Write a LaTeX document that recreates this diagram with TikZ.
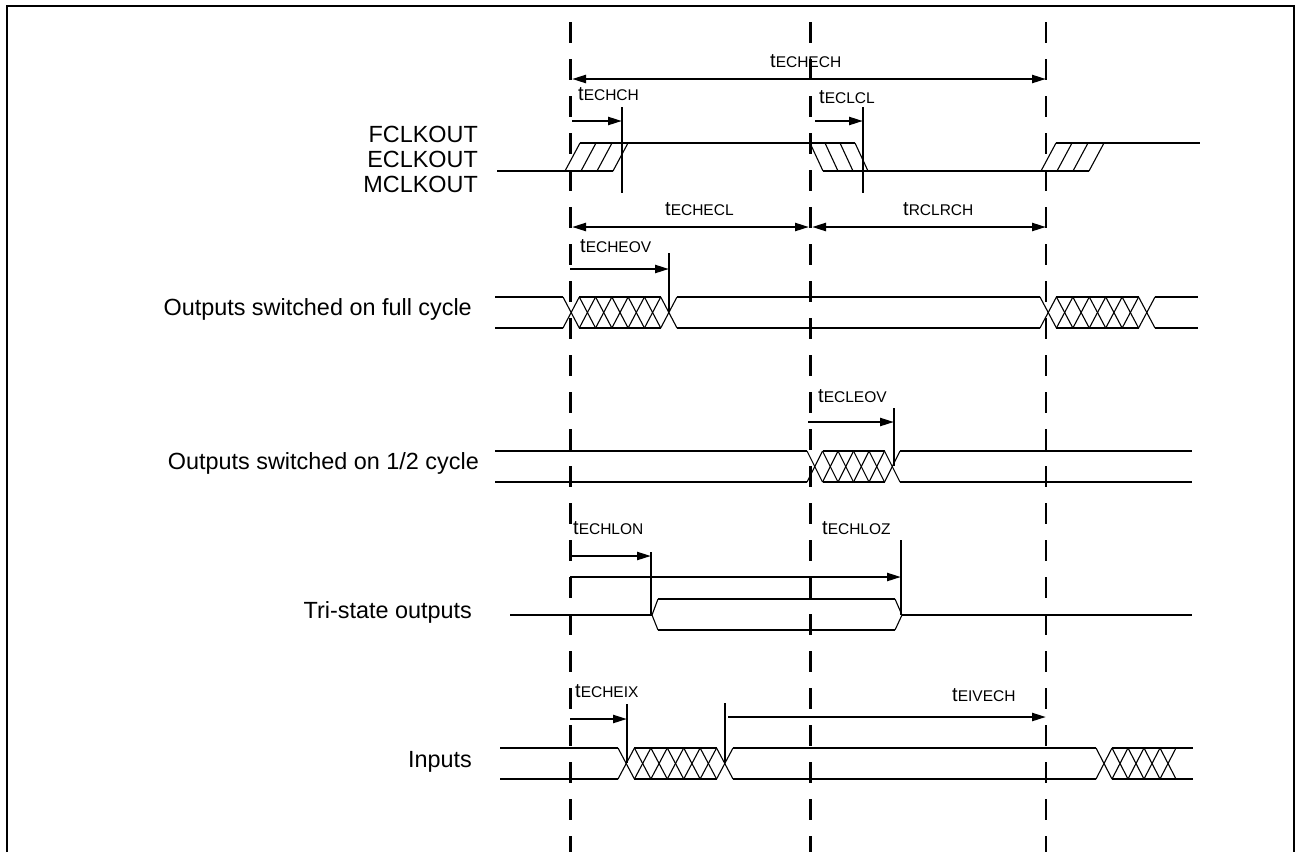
\documentclass[tikz,border=0pt]{standalone}
\usepackage{fontspec}
\setmainfont{Liberation Sans}
\usetikzlibrary{arrows.meta}
\newcommand{\tlab}[1]{{\fontsize{20}{20}\selectfont t}{\fontsize{15.5}{16}\selectfont #1}}
\newcommand{\hatchbus}[5]{%
  \pgfmathsetmacro\hbw{(#2-#1)/#3}%
  \foreach \hbi in {1,...,#3}{%
    \draw[hat] ({#1+(\hbi-1)*\hbw},#4) -- ({#1+\hbi*\hbw},#5);
    \draw[hat] ({#1+(\hbi-1)*\hbw},#5) -- ({#1+\hbi*\hbw},#4);
  }%
  \draw[sig] ({#1+\hbw},#4) -- ({#2-\hbw},#4);
  \draw[sig] ({#1+\hbw},#5) -- ({#2-\hbw},#5);
}
\begin{document}
\begin{tikzpicture}[x=1pt,y=-1pt,
  sig/.style={line width=2.3pt},
  hat/.style={line width=1.1pt},
  guide/.style={line width=2.3pt, dash pattern=on 21pt off 16pt},
  dim/.style={line width=2.3pt,-{Triangle[length=14pt,width=8pt]}},
  ddim/.style={line width=2.3pt,{Triangle[length=14pt,width=8pt]}-{Triangle[length=14pt,width=8pt]}},
  tl/.style={anchor=base west, inner sep=0pt},
  sl/.style={anchor=base east, inner sep=0pt, font=\fontsize{23.4}{25}\selectfont}]
\useasboundingbox (0,0) rectangle (1298,852);
% frame
\draw[line width=2.5pt] (7,852) -- (7,6) -- (1294,6) -- (1294,852);
% guide lines
\coordinate (g1t) at (570.5,22); \coordinate (g1b) at (570.5,852);
\coordinate (g2t) at (810.5,22); \coordinate (g2b) at (810.5,852);
\coordinate (g3t) at (1046,22);  \coordinate (g3b) at (1046,852);
\draw[guide] (g1t) -- (g1b);
\draw[guide] (g2t) -- (g2b);
\draw[guide] (g3t) -- (g3b);
% signal labels
\node[sl] (lf) at (478,142) {FCLKOUT};
\node[sl] (le) at (478,167) {ECLKOUT};
\node[sl] (lm) at (478,192) {MCLKOUT};
\node[sl] (lfull) at (472,315) {Outputs switched on full cycle};
\node[sl] (lhalf) at (479,469) {Outputs switched on 1/2 cycle};
\node[sl] (ltri) at (472,618) {Tri-state outputs};
\node[sl] (lin) at (472,767) {Inputs};
% clock
\draw[sig] (497,171) -- (613,171);
\foreach \a in {565,581,597,613} \draw[hat] (\a,171) -- (\a+15,143);
\draw[sig] (580,143) -- (855,143);
\foreach \a in {810,825,840,855} \draw[hat] (\a,143) -- (\a+13,171);
\draw[sig] (823,171) -- (1089,171);
\foreach \a in {1041,1057,1073,1089} \draw[hat] (\a,171) -- (\a+15,143);
\draw[sig] (1056,143) -- (1200,143);
% clock timing marks
\draw[sig] (622,107) -- (622,193);
\draw[dim] (572,121) -- (622,121);
\draw[sig] (863,107) -- (863,193);
\draw[dim] (815,121) -- (863,121);
\draw[ddim] (572,79) -- (1046,79);
\draw[ddim] (572,227) -- (809,227);
\draw[ddim] (812,227) -- (1046,227);
\node[tl] (techech) at (770,67) {\tlab{ECHECH}};
\node[tl] (techch) at (578,100) {\tlab{ECHCH}};
\node[tl] (teclcl) at (819,103) {\tlab{ECLCL}};
\node[tl] (techecl) at (665,215) {\tlab{ECHECL}};
\node[tl] (trclrch) at (903,215) {\tlab{RCLRCH}};
% outputs full cycle
\draw[sig] (495,297) -- (563,297); \draw[sig] (495,328) -- (563,328);
\hatchbus{563}{677}{7}{297}{328}
\draw[sig] (677,297) -- (1040,297); \draw[sig] (677,328) -- (1040,328);
\hatchbus{1040}{1155}{7}{297}{328}
\draw[sig] (1155,297) -- (1198,297); \draw[sig] (1155,328) -- (1198,328);
\draw[sig] (669,253) -- (669,312);
\draw[dim] (570,269) -- (669,269);
\node[tl] (techeov) at (580,252) {\tlab{ECHEOV}};
% outputs half cycle
\draw[sig] (495,451) -- (807,451); \draw[sig] (495,482) -- (807,482);
\hatchbus{807}{900}{6}{451}{482}
\draw[sig] (900,451) -- (1192,451); \draw[sig] (900,482) -- (1192,482);
\draw[sig] (894,408) -- (894,466);
\draw[dim] (808,422) -- (894,422);
\node[tl] (tecleov) at (818,402) {\tlab{ECLEOV}};
% tri-state
\draw[sig] (510,615) -- (652,615);
\draw[hat] (652,615) -- (658,599); \draw[hat] (652,615) -- (658,630);
\draw[sig] (658,599) -- (895,599); \draw[sig] (658,630) -- (895,630);
\draw[hat] (895,599) -- (902,615); \draw[hat] (895,630) -- (902,615);
\draw[sig] (902,615) -- (1192,615);
\draw[sig] (651,552) -- (651,615);
\draw[dim] (570,556) -- (651,556);
\draw[sig] (901,540) -- (901,615);
\draw[dim] (570,577) -- (901,577);
\node[tl] (techlon) at (573,534) {\tlab{ECHLON}};
\node[tl] (techloz) at (822,534) {\tlab{ECHLOZ}};
% inputs
\draw[sig] (500,748) -- (618,748); \draw[sig] (500,779) -- (618,779);
\hatchbus{618}{733}{7}{748}{779}
\draw[sig] (733,748) -- (1096,748); \draw[sig] (733,779) -- (1096,779);
\hatchbus{1096}{1176}{5}{748}{779}
\draw[sig] (1150,748) -- (1193,748); \draw[sig] (1150,779) -- (1193,779);
\draw[sig] (627,704) -- (627,763);
\draw[dim] (570,719) -- (627,719);
\draw[sig] (725,703) -- (725,763);
\draw[dim] (728,717) -- (1046,717);
\node[tl] (techeix) at (575,697) {\tlab{ECHEIX}};
\node[tl] (teivech) at (952,701) {\tlab{EIVECH}};
\end{tikzpicture}
\end{document}
